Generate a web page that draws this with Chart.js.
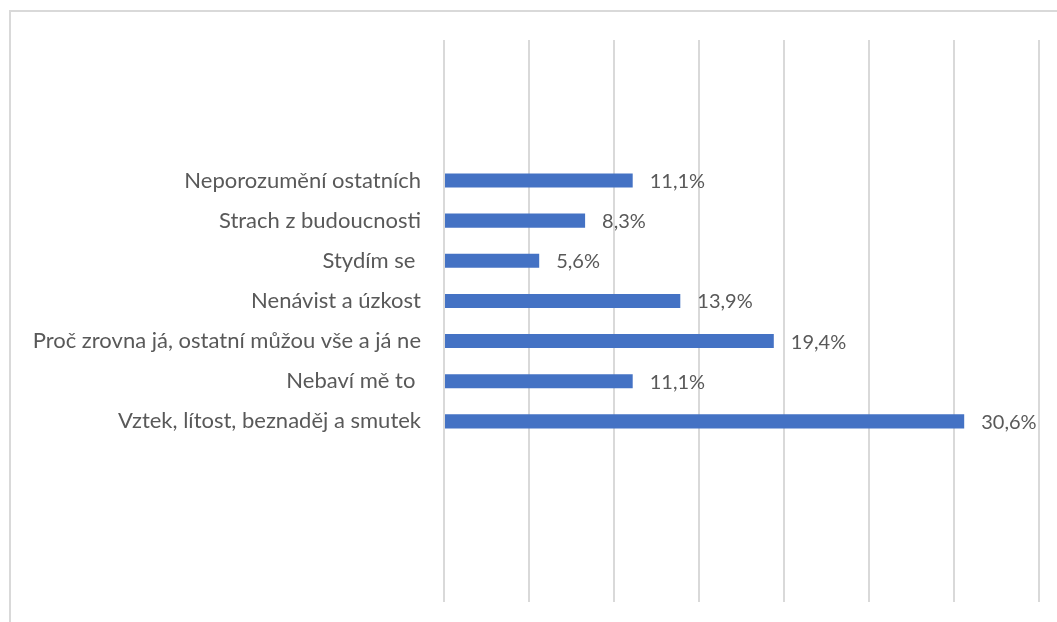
<!DOCTYPE html>
<html lang="cs">
<head>
<meta charset="utf-8">
<script src="https://cdn.jsdelivr.net/npm/chart.js@4/dist/chart.umd.min.js"></script>
<style>
    html, body { margin: 0; padding: 0; background: #fff; overflow: hidden; }
    .frame {
        position: absolute; left: 9px; top: 10px; width: 1200px; height: 800px;
        border-left: 2px solid #d9d9d9; border-top: 2px solid #d9d9d9;
    }
    .wrap { position: absolute; left: 0; top: 0; width: 1057px; height: 622px; }
</style>
</head>
<body>
<div class="frame"></div>
<div class="wrap"><canvas id="reasonChart"></canvas></div>
<script>
// Odpovědi (shora dolů) a podíly v %
const categories = [
    'Neporozumění ostatních',
    'Strach z budoucnosti',
    'Stydím se ',
    'Nenávist a úzkost',
    'Proč zrovna já, ostatní můžou vše a já ne',
    'Nebaví mě to ',
    'Vztek, lítost, beznaděj a smutek'
];
const values = [11.1, 8.3, 5.6, 13.9, 19.4, 11.1, 30.6];

// prázdné řádky nad a pod daty
const padTop = ['', '', ''];
const padBottom = ['', '', '', ''];

const labels = [...padTop, ...categories, ...padBottom];
const data = [...padTop.map(() => null), ...values, ...padBottom.map(() => null)];

const FONT = 'Lato';
const TEXT = '#595959';

const valueLabels = {
    id: 'valueLabels',
    afterDatasetsDraw(chart) {
        const ctx = chart.ctx;
        const meta = chart.getDatasetMeta(0);
        ctx.save();
        ctx.font = '20px ' + FONT;
        ctx.fillStyle = TEXT;
        ctx.textBaseline = 'middle';
        ctx.textAlign = 'left';
        meta.data.forEach((bar, i) => {
            const v = chart.data.datasets[0].data[i];
            if (v == null) return;
            ctx.fillText(v.toFixed(1).replace('.', ',') + '%', bar.x + 17, bar.y + 1);
        });
        ctx.restore();
    }
};

new Chart(document.getElementById('reasonChart'), {
    type: 'bar',
    data: {
        labels,
        datasets: [{
            data,
            backgroundColor: '#4472C4',
            categoryPercentage: 1,
            barPercentage: 0.35
        }]
    },
    options: {
        indexAxis: 'y',
        responsive: true,
        maintainAspectRatio: false,
        animation: false,
        layout: { padding: { left: 0, right: 18, top: 40, bottom: 20 } },
        plugins: { legend: { display: false }, tooltip: { enabled: false } },
        scales: {
            x: {
                min: 0, max: 35,
                ticks: { display: false, stepSize: 5 },
                grid: { color: '#d9d9d9', lineWidth: 2, drawTicks: false },
                border: { display: false },
                afterFit(scale) { scale.height = 0; }
            },
            y: {
                grid: { display: false },
                border: { display: false },
                ticks: { color: TEXT, font: { family: FONT, size: 22 }, padding: 15, autoSkip: false },
                afterFit(scale) {
                    scale.width = 444;
                    scale.paddingTop = 0;
                    scale.paddingBottom = 0;
                }
            }
        }
    },
    plugins: [valueLabels]
});
</script>
</body>
</html>
